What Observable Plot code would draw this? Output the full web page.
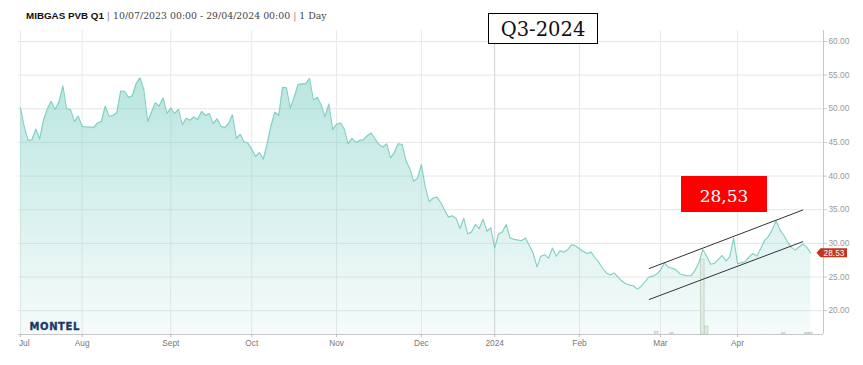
<!DOCTYPE html>
<html>
<head>
<meta charset="utf-8">
<script src="https://cdn.jsdelivr.net/npm/d3@7"></script>
<script src="https://cdn.jsdelivr.net/npm/@observablehq/plot@0.6"></script>
<style>
  body { margin: 0; background: #fff; }
  #wrap { position: relative; width: 863px; height: 365px; overflow: hidden; background: #fff; }
  #title { height: 24px; line-height: 27px; padding-left: 26px; white-space: nowrap; color: #444; }
  #title .b { font-family: "Liberation Sans", Arial, sans-serif; font-weight: bold; font-size: 9.8px; color: #111; }
  #title .s { font-family: "DejaVu Serif", serif; font-size: 9.4px; color: #444; }
  #title .sep { font-family: "DejaVu Serif", serif; font-size: 9.4px; color: #888; }
  #chart { position: relative; z-index: 0; margin-left: 18px; width: 845px; height: 341px; }
  #chart svg { overflow: hidden; }
  #q3 { position: absolute; z-index: 5; left: 488px; top: 13px; width: 108px; height: 29px; border: 1.5px solid #000; background: #fff;
        font-family: "DejaVu Serif", serif; font-size: 19.5px; line-height: 31px; text-align: center; color: #111; }
  #price { position: absolute; z-index: 5; left: 681px; top: 176px; width: 86px; height: 36px; background: #ff0000;
        font-family: "DejaVu Serif", serif; font-size: 17px; line-height: 40px; text-align: center; color: #fff; }
</style>
</head>
<body>
<div id="wrap">
  <div id="title"><span class="b">MIBGAS PVB Q1</span><span class="sep"> | </span><span class="s">10/07/2023 00:00 - 29/04/2024 00:00</span><span class="sep"> | </span><span class="s">1 Day</span></div>
  <div id="chart"></div>
  <div id="q3">Q3-2024</div>
  <div id="price">28,53</div>
</div>
<script>
// ---- data ----
const startDate = "2023-07-10";
const endDate = "2024-04-29";
const holidays = ["2023-12-25", "2023-12-26", "2024-01-01", "2024-03-29", "2024-04-01"];

// one daily settlement price per trading day (EUR/MWh)
const prices = [
  50.2, 47.3, 45.3, 45.4, 47.0, 45.5, 48.3, 50.0, 51.1, 49.9,
  51.0, 53.4, 50.0, 49.9, 48.1, 48.9, 47.4, 47.3, 47.3, 47.2,
  47.9, 48.1, 50.4, 48.9, 49.0, 49.4, 52.6, 52.6, 51.7, 51.9,
  53.7, 54.6, 52.9, 48.1, 49.5, 50.9, 50.4, 51.6, 49.3, 50.1,
  49.3, 49.9, 47.6, 48.6, 48.3, 48.8, 48.4, 49.6, 49.0, 49.3,
  47.8, 48.5, 47.4, 47.2, 47.8, 49.1, 45.6, 46.2, 45.1, 44.9,
  44.0, 42.9, 43.5, 42.5, 44.8, 47.5, 49.5, 49.0, 53.2, 53.1,
  50.1, 51.7, 53.6, 53.7, 53.7, 54.5, 51.3, 51.7, 50.6, 48.8,
  50.7, 46.9, 47.7, 47.9, 47.0, 44.8, 45.6, 45.0, 45.3, 45.4,
  46.0, 46.4, 45.5, 44.7, 44.3, 44.8, 42.7, 43.5, 44.8, 44.7,
  42.3, 41.1, 39.2, 39.7, 41.7, 38.4, 36.2, 36.7, 36.9, 36.1,
  35.0, 33.9, 34.1, 33.7, 32.2, 33.7, 31.4, 31.7, 32.8, 32.2,
  33.6, 31.8, 32.3, 29.3, 31.4, 31.7, 32.8, 30.8, 30.6, 30.5,
  30.4, 30.8, 29.7, 28.5, 26.5, 28.1, 28.3, 27.8, 29.3, 28.1,
  28.9, 28.7, 29.1, 29.8, 29.6, 29.2, 28.8, 28.5, 28.7, 27.9,
  27.2, 26.3, 25.6, 25.3, 25.6, 25.0, 24.4, 24.0, 23.8, 23.7,
  23.2, 23.6, 24.3, 25.0, 25.1, 25.4, 26.0, 27.1, 26.5, 26.3,
  26.1, 25.5, 25.3, 25.2, 25.2, 26.0, 27.2, 29.1, 28.1, 26.9,
  27.0, 27.6, 28.2, 27.4, 28.0, 30.8, 27.0, 27.1, 27.3, 28.0,
  28.5, 28.1, 29.2, 30.4, 31.0, 32.0, 33.4, 32.0, 31.2, 30.2,
  29.4, 29.0, 29.5, 29.9, 29.4, 28.53
];
const lastPrice = 28.53;

// traded volume (bars at the bottom)
const volDates  = ["2024-02-29", "2024-03-06", "2024-03-18", "2024-03-19", "2024-04-18", "2024-04-26", "2024-04-29"];
const volValues = [10, 5, 300, 32, 5, 6, 7];

// month tick labels
const monthLabels = ["Jul", "Aug", "Sept", "Oct", "Nov", "Dec", "2024", "Feb", "Mar", "Apr"];

// y-axis ticks
const yTicks = [20, 25, 30, 35, 40, 45, 50, 55, 60];

// hand-drawn trend channel
const channelDates = ["2024-02-27", "2024-04-25"];
const channelUpper = [26.24, 34.97];
const channelLower = [21.64, 30.27];

// ---- trading calendar ----
const holidaySet = new Set(holidays);
const tradingDays = [];
for (let t = Date.parse(startDate + "T00:00:00Z"); t <= Date.parse(endDate + "T00:00:00Z"); t += 864e5) {
  const d = new Date(t);
  const wd = d.getUTCDay();
  const s = d.toISOString().slice(0, 10);
  if (wd === 0 || wd === 6 || holidaySet.has(s)) continue;
  tradingDays.push(s);
}
const dayIndex = new Map(tradingDays.map((s, i) => [s, i]));
const rows = prices.map((p, i) => ({i, date: tradingDays[i], price: p}));

const monthIdx = [];
tradingDays.forEach((s, i) => { if (i === 0 || s.slice(0, 7) !== tradingDays[i - 1].slice(0, 7)) monthIdx.push(i); });
const labelOf = new Map(monthIdx.map((m, k) => [m, monthLabels[k]]));
const yearIdx = monthIdx.filter((m, k) => monthLabels[k] === "2024");

const xMin = -0.5, xMax = 208.3;
const yMin = 16.46, yMax = 61.63;
const volToY = d3.scaleLinear([0, 300], [0, 11.14]);
const vols = volDates.map((d, k) => ({i: dayIndex.get(d), v: volValues[k]}));
const channel = [
  {x1: dayIndex.get(channelDates[0]), x2: dayIndex.get(channelDates[1]), y1: channelUpper[0], y2: channelUpper[1]},
  {x1: dayIndex.get(channelDates[0]), x2: dayIndex.get(channelDates[1]), y1: channelLower[0], y2: channelLower[1]}
];

const svg = Plot.plot({
  width: 845,
  height: 341,
  marginLeft: 0,
  marginRight: 40,
  marginTop: 6,
  marginBottom: 31,
  x: {domain: [xMin, xMax], axis: null},
  y: {domain: [yMin, yMax], axis: null},
  style: {fontFamily: "'Liberation Sans', Arial, sans-serif", fontSize: "8.3px", background: "transparent", overflow: "hidden"},
  marks: [
    Plot.gridY(yTicks, {stroke: "#e6e6e6", strokeOpacity: 1}),
    Plot.gridX(monthIdx, {stroke: "#e9e9e9", strokeOpacity: 1}),
    Plot.gridX(yearIdx, {stroke: "#d6d6d6", strokeOpacity: 1}),
    Plot.areaY(rows, {x: "i", y1: yMin, y2: "price", fill: "url(#tealGrad)"}),
    Plot.rect(vols, {x1: d => d.i - 0.45, x2: d => d.i + 0.45, y1: yMin, y2: d => yMin + volToY(d.v),
      fill: "#e2ebe5", stroke: "#bccfc3", strokeWidth: 0.8}),
    Plot.line(rows, {x: "i", y: "price", stroke: "#7fcfc2", strokeWidth: 1.1}),
    Plot.link(channel, {x1: "x1", y1: "y1", x2: "x2", y2: "y2", stroke: "#333", strokeWidth: 1}),
    Plot.ruleY([yMin], {stroke: "#c8c8c8"}),
    Plot.ruleX([xMax], {stroke: "#c8c8c8"}),
    Plot.axisX(monthIdx, {tickFormat: d => labelOf.get(d), tickSize: 3, tickPadding: 3, stroke: "#bbb", fill: "#777", label: null, fontSize: 8.3}),
    Plot.axisY(yTicks, {anchor: "right", tickFormat: d3.format(".2f"), tickSize: 3, tickPadding: 2, stroke: "#ccc", fill: "#999", label: null, fontSize: 8.3}),
    Plot.text(["MONTEL"], {frameAnchor: "bottom-left", text: d => d, dx: 11, dy: -5, textAnchor: "start", lineAnchor: "bottom",
      fontFamily: "'DejaVu Sans', sans-serif", fontWeight: "bold", fontSize: 10, fill: "#1b3868"})
  ]
});

// gradient for the area fill
const ys = svg.scale("y"), xs = svg.scale("x");
const defs = d3.select(svg).insert("defs", ":first-child");
const grad = defs.append("linearGradient").attr("id", "tealGrad")
  .attr("gradientUnits", "userSpaceOnUse")
  .attr("x1", 0).attr("x2", 0)
  .attr("y1", ys.apply(yMax)).attr("y2", ys.apply(yMin));
grad.append("stop").attr("offset", "0%").attr("stop-color", "#78cec2").attr("stop-opacity", 0.6);
grad.append("stop").attr("offset", "55%").attr("stop-color", "#78cec2").attr("stop-opacity", 0.3);
grad.append("stop").attr("offset", "100%").attr("stop-color", "#78cec2").attr("stop-opacity", 0.07);

const sel = d3.select(svg);
sel.selectAll("text").filter(function () { return this.textContent === "MONTEL"; })
  .attr("letter-spacing", "0.6px").attr("stroke", "#1b3868").attr("stroke-width", 0.35);
// first month label: keep it fully inside the frame
sel.selectAll("text").filter(function () { return this.textContent === "Jul"; })
  .attr("text-anchor", "start").attr("dx", -1.5);

// last-price tag on the right axis
const ty = ys.apply(lastPrice);
const tx = xs.apply(xMax);
const tag = sel.append("g");
tag.append("path")
  .attr("d", `M${tx - 6.5},${ty} L${tx - 2.5},${ty - 4.6} L${tx + 24},${ty - 4.6} L${tx + 24},${ty + 4.6} L${tx - 2.5},${ty + 4.6} Z`)
  .attr("fill", "#c1341d");
tag.append("text").attr("x", tx + 11).attr("y", ty).attr("dy", "0.34em")
  .attr("text-anchor", "middle").attr("fill", "#fff")
  .attr("font-family", "'Liberation Sans', Arial, sans-serif").attr("font-size", 8.3)
  .text(lastPrice.toFixed(2));

document.getElementById("chart").appendChild(svg);
</script>
</body>
</html>
